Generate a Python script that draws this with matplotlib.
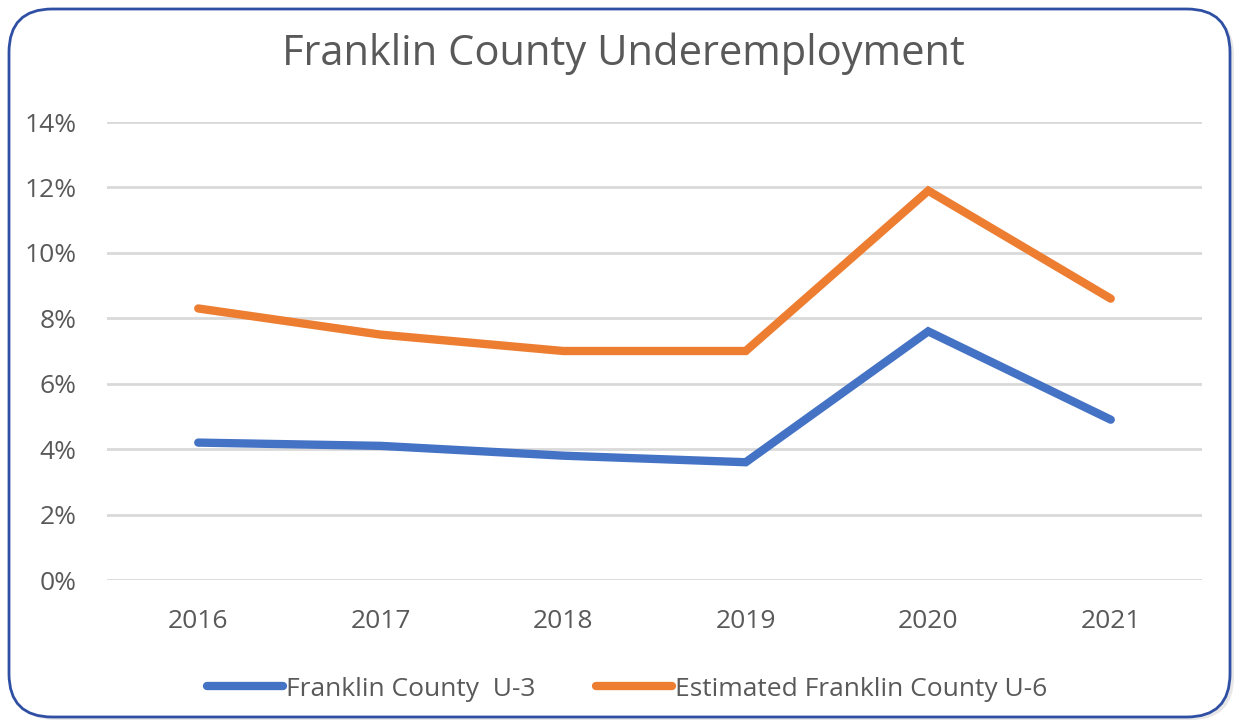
import matplotlib
matplotlib.use("Agg")
import matplotlib.pyplot as plt
from matplotlib import font_manager
from matplotlib.patches import FancyBboxPatch
from matplotlib.ticker import PercentFormatter

years = ["2016", "2017", "2018", "2019", "2020", "2021"]
u3 = [4.2, 4.1, 3.8, 3.6, 7.6, 4.9]
u6 = [8.3, 7.5, 7.0, 7.0, 11.9, 8.6]
series_names = ["Franklin County  U-3", "Estimated Franklin County U-6"]
title = "Franklin County Underemployment"

BLUE = "#4472C4"
ORANGE = "#ED7D31"
TEXT = "#595959"
GRID = "#D9D9D9"

available = {f.name for f in font_manager.fontManager.ttflist}
main_font = "Open Sans" if "Open Sans" in available else "DejaVu Sans"
legend_font = main_font

W, H = 1235, 723
fig = plt.figure(figsize=(W / 100, H / 100), dpi=100)
fig.patch.set_facecolor("white")

# rounded chart frame with a soft shadow, kept behind the axes
shadow = FancyBboxPatch((12 / W, 3 / H), 1222 / W, 708 / H,
                        boxstyle="round,pad=0,rounding_size=0.035",
                        transform=fig.transFigure, facecolor="#D0D0D0",
                        edgecolor="none", alpha=0.5, zorder=-2, mutation_aspect=W / H)
fig.patches.append(shadow)
frame = FancyBboxPatch((9 / W, 6 / H), 1221 / W, 708 / H,
                       boxstyle="round,pad=0,rounding_size=0.035",
                       transform=fig.transFigure, facecolor="white",
                       edgecolor="#2E4FA3", linewidth=2.0, zorder=-1, mutation_aspect=W / H)
fig.patches.append(frame)

ax = fig.add_axes([107 / W, (H - 580) / H, 1095 / W, 458 / H])
ax.set_facecolor("none")
x = list(range(len(years)))
ax.plot(x, u3, color=BLUE, linewidth=6.0, solid_capstyle="round",
        solid_joinstyle="miter", label=series_names[0], zorder=3)
ax.plot(x, u6, color=ORANGE, linewidth=6.0, solid_capstyle="round",
        solid_joinstyle="miter", label=series_names[1], zorder=3)

ax.set_xlim(-0.5, len(years) - 0.5)
ax.set_ylim(0, 14)
ax.set_yticks(range(0, 15, 2))
ax.yaxis.set_major_formatter(PercentFormatter(decimals=0))
ax.set_xticks(x)
ax.set_xticklabels(years)
ax.grid(axis="y", color=GRID, linewidth=2.0)
ax.grid(axis="x", visible=False)
ax.set_axisbelow(True)
for s in ax.spines.values():
    s.set_visible(False)
ax.tick_params(length=0, labelcolor=TEXT, labelsize=19)
ax.tick_params(axis="y", pad=22)
ax.tick_params(axis="x", pad=21)
for lbl in ax.get_xticklabels() + ax.get_yticklabels():
    lbl.set_fontfamily(main_font)

fig.text(623 / W, 1 - 54 / H, title, ha="center", va="center",
         fontsize=30, color=TEXT, fontfamily=main_font)

leg = fig.legend(loc="center", bbox_to_anchor=(627 / W, 1 - 689 / H), ncol=2,
                 frameon=False, handlelength=2.9, handletextpad=0.1,
                 columnspacing=2.3,
                 prop={"family": legend_font, "size": 19})
for t in leg.get_texts():
    t.set_color(TEXT)

fig.savefig("out.png", dpi=100, facecolor="white")
